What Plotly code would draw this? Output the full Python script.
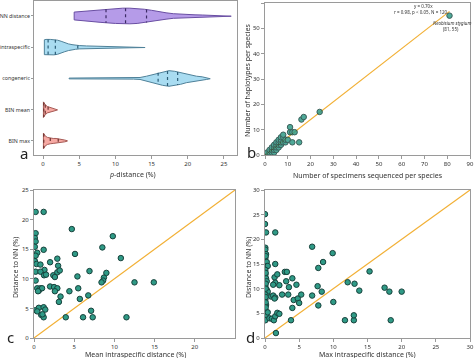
import numpy as np
import plotly.graph_objects as go

# ---------------- data ----------------
violin_names = ["NN distance", "intraspecific", "congeneric", "BIN mean", "BIN max"]

# density profiles (x = p-distance, w = relative half-width)
nn_x = [4.3, 6.0, 8.0, 10.0, 11.0, 12.0, 13.0, 14.0, 15.0, 16.0, 17.0, 18.0, 19.0, 20.0, 21.0, 22.0, 23.0, 24.0, 25.0, 26.0]
nn_w = [11, 14, 18, 21, 22, 22, 21, 19, 16, 12, 9, 6.5, 5, 4, 3.3, 2.8, 2.3, 1.8, 1.3, 0.6]
nn_q = [8.7, 11.4, 14.3]

intra_x = [0.18, 0.4, 1.0, 1.5, 2.0, 2.5, 3.0, 3.5, 4.0, 4.5, 5.0, 6.0, 7.0, 8.0, 10.0, 12.0, 14.1]
intra_w = [20, 21, 21, 20.5, 19, 16, 12, 9, 7, 5.5, 4.5, 3.5, 3, 2.5, 2, 1.5, 0.8]
intra_q = [0.7, 1.7, 4.8]

cong_x = [3.6, 6.0, 9.0, 11.0, 12.5, 13.4, 14.3, 15.0, 15.7, 16.5, 17.4, 18.2, 19.0, 19.8, 20.6, 21.2, 22.0, 22.6, 23.1]
cong_w = [1.2, 1.3, 1.4, 1.6, 2, 3, 7, 11, 16, 21, 24, 22, 18, 13, 9, 7, 5, 3, 0.8]
cong_q = [15.9, 17.2, 18.6]

binmean_x = [0.05, 0.3, 0.6, 1.0, 1.4, 1.8, 2.0]
binmean_w = [22, 14, 9, 6, 4, 2, 0.5]
binmean_q = [0.1, 0.3, 0.7]

binmax_x = [0.05, 0.3, 0.6, 1.0, 1.4, 1.8, 2.2, 2.6, 3.0, 3.36]
binmax_w = [22, 14, 10, 8, 7, 7, 6, 4, 2.5, 0.5]
binmax_q = [0.1, 1.0, 2.1]

# panel b: specimens vs haplotypes
b_specimens = [1, 2, 2, 3, 3, 3, 4, 4, 4, 4, 5, 5, 5, 5, 6, 6, 6, 6, 7, 7, 7, 7, 8, 8, 8,
               9, 9, 10, 11, 11, 12, 12, 13, 15, 16, 17, 24, 81]
b_haplotypes = [1, 1, 2, 1, 2, 3, 1, 2, 3, 4, 2, 3, 4, 5, 3, 4, 5, 6, 4, 5, 6, 7, 5, 7, 8,
                5, 6, 6, 9, 11, 5, 9, 9, 5, 14, 15, 17, 55]
b_slope = 0.70
b_fit_x = [0, 81]

# panel c: mean intraspecific distance vs distance to NN
c_mean = [0.2, 1.2, 0.2, 0.1, 0.2, 0.1, 0.4, 0.2, 0.1, 0.3, 0.8, 1.3, 0.2, 0.8, 1.25, 1.5, 1.2, 2.0,
          2.4, 2.6, 2.9, 2.9, 3.0, 3.2, 0.2, 0.4, 0.6, 0.8, 1.0, 0.5, 2.0, 2.5, 2.9, 2.6, 3.3, 3.1,
          0.2, 0.6, 0.4, 0.9, 1.2, 1.4, 1.2, 1.05, 3.95, 4.7, 5.1, 5.4, 5.5, 5.7, 4.4, 6.1, 6.75,
          6.9, 7.1, 7.3, 9.8, 8.5, 8.7, 8.6, 8.4, 9.0, 10.8, 11.5, 12.5, 14.9]
c_nn = [21.3, 21.3, 17.7, 16.9, 16.3, 15.4, 14.4, 13.9, 13.0, 12.5, 12.4, 11.5, 11.2, 11.2, 10.6, 10.7,
        14.9, 12.8, 10.6, 10.3, 11.1, 13.4, 12.2, 11.4, 9.7, 8.4, 8.0, 8.4, 8.4, 7.9, 8.7, 8.6, 8.4,
        7.9, 7.0, 6.1, 4.7, 5.1, 4.5, 3.9, 5.2, 4.8, 3.5, 4.0, 3.5, 18.4, 14.2, 10.4, 8.4, 6.6, 7.9,
        3.5, 7.2, 11.3, 4.6, 3.5, 17.2, 15.3, 10.2, 9.7, 9.4, 11.0, 13.5, 3.5, 9.4, 9.4]

# panel d: max intraspecific distance vs distance to NN
d_max = [0.0, 0.0, 0.15, 1.5, 0.05, 0.05, 0.15, 0.05, 0.25, 0.15, 0.4, 1.5, 0.05, 0.05, 0.15, 0.25,
         0.05, 0.25, 0.4, 0.05, 0.05, 0.15, 0.05, 0.15, 0.05, 0.4, 0.1, 0.1, 0.1, 0.1, 0.1, 0.1, 0.1,
         1.4, 1.8, 1.5, 1.2, 2.1, 0.9, 1.2, 1.5, 1.4, 0.65, 1.0, 1.3, 1.5, 1.8, 2.1, 2.5, 2.9, 3.2,
         3.1, 3.5, 3.4, 4.0, 4.2, 4.0, 3.8, 4.6, 4.8, 5.0, 5.3, 1.6, 6.9, 6.9, 7.7, 7.8, 7.8, 8.3,
         8.5, 9.9, 10.0, 11.7, 12.1, 13.0, 13.0, 13.1, 13.8, 15.3, 17.5, 18.2, 18.4, 20.0]
d_nn = [25.1, 23.1, 21.4, 21.4, 18.3, 17.9, 17.0, 16.2, 15.4, 14.5, 14.6, 15.0, 13.8, 12.8, 12.1, 11.5,
        10.5, 9.8, 9.4, 8.8, 7.8, 6.7, 5.7, 4.7, 3.6, 5.2, 16.6, 13.2, 11.0, 10.0, 8.3, 7.2, 6.2,
        12.3, 12.9, 11.2, 10.8, 10.7, 8.4, 8.6, 8.2, 8.0, 4.0, 3.9, 3.6, 4.4, 5.1, 4.9, 8.8, 13.4, 13.4,
        11.5, 10.3, 8.8, 12.1, 7.7, 6.1, 3.6, 10.8, 8.0, 7.1, 8.8, 1.0, 18.5, 8.6, 10.5, 14.2, 6.6, 9.4,
        15.4, 17.2, 7.3, 3.6, 11.3, 3.6, 4.6, 11.0, 9.6, 13.5, 10.2, 9.4, 3.6, 9.4]

# ---------------- styles ----------------
FONT = "Noto Sans"
TXT = "#333333"
FRAME = "#9a9a9a"
ORANGE = "#f2b035"
MK_FILL = "#2f9a86"
MK_LINE = "#17413b"
HW = 0.25

violin_styles = [
    ("#b59be8", "#6a4fa3", "#3d2c66"),
    ("#a9dcf1", "#4f8199", "#2d5e78"),
    ("#a9dcf1", "#4f8199", "#2d5e78"),
    ("#f6a9a3", "#a65a55", "#6e3431"),
    ("#f6a9a3", "#a65a55", "#6e3431"),
]
profiles = [(nn_x, nn_w, nn_q), (intra_x, intra_w, intra_q), (cong_x, cong_w, cong_q),
            (binmean_x, binmean_w, binmean_q), (binmax_x, binmax_w, binmax_q)]

fig = go.Figure()

# ---- panel a violins ----
for i, ((xs, ws, qs), (fill, edge, qcol)) in enumerate(zip(profiles, violin_styles)):
    xs = np.array(xs, float)
    rel = np.array(ws, float) / max(ws)
    up = i - rel * HW
    lo = i + rel * HW
    px = list(xs) + list(xs[::-1]) + [xs[0]]
    py = list(up) + list(lo[::-1]) + [up[0]]
    fig.add_trace(go.Scatter(x=px, y=py, mode="lines", fill="toself", fillcolor=fill,
                             line=dict(color=edge, width=1), xaxis="x", yaxis="y",
                             hoverinfo="skip", showlegend=False))
    qx, qy = [], []
    for q in qs:
        h = np.interp(q, xs, rel) * HW
        qx += [q, q, None]
        qy += [i - h, i + h, None]
    fig.add_trace(go.Scatter(x=qx, y=qy, mode="lines", line=dict(color=qcol, width=1.2, dash="dot"),
                             xaxis="x", yaxis="y", hoverinfo="skip", showlegend=False))

marker = dict(size=5.5, color=MK_FILL, line=dict(color=MK_LINE, width=1))

# ---- panel b ----
fig.add_trace(go.Scatter(x=b_fit_x, y=[b_slope * v for v in b_fit_x], mode="lines",
                         line=dict(color=ORANGE, width=1.2), xaxis="x2", yaxis="y2", showlegend=False))
fig.add_trace(go.Scatter(x=b_specimens, y=b_haplotypes, mode="markers", marker=marker, opacity=0.85,
                         xaxis="x2", yaxis="y2", showlegend=False))

# ---- panel c ----
fig.add_trace(go.Scatter(x=[0, 25], y=[0, 25], mode="lines", line=dict(color=ORANGE, width=1.2),
                         xaxis="x3", yaxis="y3", showlegend=False))
fig.add_trace(go.Scatter(x=c_mean, y=c_nn, mode="markers", marker=marker,
                         xaxis="x3", yaxis="y3", showlegend=False))

# ---- panel d ----
fig.add_trace(go.Scatter(x=[0, 30], y=[0, 30], mode="lines", line=dict(color=ORANGE, width=1.2),
                         xaxis="x4", yaxis="y4", showlegend=False))
fig.add_trace(go.Scatter(x=d_max, y=d_nn, mode="markers", marker=marker,
                         xaxis="x4", yaxis="y4", showlegend=False))

W, H = 474, 358
def dx(a, b): return [a / W, b / W]
def dy(top, bot): return [1 - bot / H, 1 - top / H]

ax_common = dict(showline=True, linecolor=FRAME, linewidth=1, mirror=True, showgrid=False,
                 zeroline=False, ticks="outside", ticklen=3, tickcolor=FRAME, automargin=False,
                 tickfont=dict(size=6, color=TXT, family=FONT))

layout = dict(
    template="none",
    width=W, height=H, margin=dict(l=0, r=0, t=0, b=0, pad=0), autosize=False,
    paper_bgcolor="white", plot_bgcolor="white", showlegend=False,
    font=dict(family=FONT, color=TXT),
    xaxis=dict(ax_common, domain=dx(34, 237), range=[-1.25, 26.8], tickvals=[0, 5, 10, 15, 20, 25], anchor="y"),
    yaxis=dict(ax_common, domain=dy(1, 155), range=[4.45, -0.48], tickvals=[0, 1, 2, 3, 4], ticklen=2,
               ticktext=violin_names, anchor="x", tickfont=dict(size=5.3, color=TXT, family=FONT)),
    xaxis2=dict(ax_common, domain=dx(265, 470), range=[0, 90], dtick=10, anchor="y2"),
    yaxis2=dict(ax_common, domain=dy(3, 155), range=[0, 60], dtick=10, anchor="x2"),
    xaxis3=dict(ax_common, domain=dx(34, 235), range=[0, 25], tickvals=[0, 5, 10, 15, 20], anchor="y3"),
    yaxis3=dict(ax_common, domain=dy(190, 338), range=[0, 25], dtick=5, anchor="x3"),
    xaxis4=dict(ax_common, domain=dx(265, 470), range=[0, 30], dtick=5, anchor="y4"),
    yaxis4=dict(ax_common, domain=dy(190, 338), range=[0, 30], dtick=5, anchor="x4"),
)
fig.update_layout(**layout)

def ann(text, x, y, size=7.5, angle=0, color=TXT, xa="center"):
    fig.add_annotation(text=text, x=x / W, y=1 - y / H, xref="paper", yref="paper",
                       showarrow=False, textangle=angle, xanchor=xa, yanchor="middle",
                       font=dict(size=size, color=color, family=FONT))

# axis titles
ann("<i>p</i>-distance (%)", 132, 174, size=7)
ann("Number of specimens sequenced per species", 368, 175, size=7)
ann("Number of haplotypes per species", 247, 80, size=7, angle=-90)
ann("Mean intraspecific distance (%)", 135, 354, size=7)
ann("Distance to NN (%)", 15, 268, size=7, angle=-90)
ann("Max intraspecific distance (%)", 367, 354, size=7)
ann("Distance to NN (%)", 248, 268, size=7, angle=-90)

# panel b annotations
ann("y = 0.70x", 423, 6, size=4.5)
ann("r = 0.98, p < 0.05, N = 120", 421, 12, size=4.5)
ann("<i>Neobisium stygium</i>", 452, 23, size=4.5)
ann("(81, 55)", 451, 29, size=4.5)

# panel letters
ann("a", 24, 153, size=15, color="#222222")
ann("b", 251, 152, size=15, color="#222222")
ann("c", 10, 337, size=15, color="#222222")
ann("d", 250, 337, size=15, color="#222222")

fig.write_html("out.html", config={"displayModeBar": False, "staticPlot": True},
               post_script="document.body.style.margin='0';document.body.style.overflow='hidden';")
